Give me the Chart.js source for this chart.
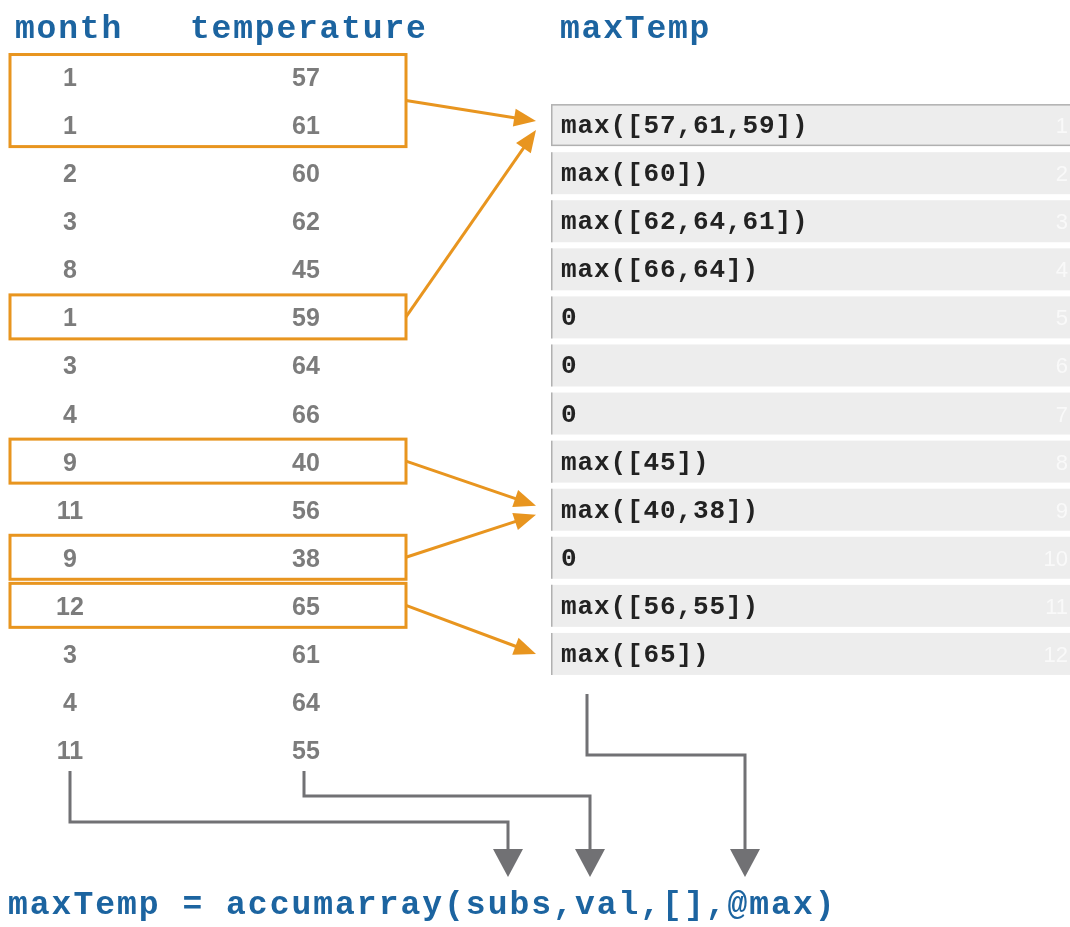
<!DOCTYPE html>
<html><head><meta charset="utf-8">
<script src="https://cdn.jsdelivr.net/npm/chart.js@4/dist/chart.umd.min.js"></script>
<style>html,body{margin:0;background:#fff;overflow:hidden}</style>
</head><body>
<canvas id="c" width="1070" height="927"></canvas>
<script>
// source table (one row per reading)
const months = [1,1,2,3,8,1,3,4,9,11,9,12,3,4,11];
const temps  = [57,61,60,62,45,59,64,66,40,56,38,65,61,64,55];
const outIdx = [1,2,3,4,5,6,7,8,9,10,11,12];
const headers = ['month','temperature','maxTemp'];
const formula = 'maxTemp = accumarray(subs,val,[],@max)';
const boxed = [[0,1],[5],[8],[10],[11]];   // highlighted rows

// maxTemp cell text built from the table
const cellText = outIdx.map(k=>{ const v=temps.filter((t,i)=>months[i]===k); return v.length ? 'max(['+v.join(',')+'])' : '0'; });

const BLUE='#1c64a0', ORANGE='#e8951f', GREY='#717174', MONO='"Liberation Mono", "Courier New", monospace';
const COL_M=70, COL_T=306, CELL_L=551, CELL_R=1072;

function arrowHead(ctx,x0,y0,x1,y1,len,hw,col){
  const a=Math.atan2(y1-y0,x1-x0);
  ctx.fillStyle=col; ctx.beginPath();
  ctx.moveTo(x1,y1);
  ctx.lineTo(x1-len*Math.cos(a)+hw*Math.sin(a), y1-len*Math.sin(a)-hw*Math.cos(a));
  ctx.lineTo(x1-len*Math.cos(a)-hw*Math.sin(a), y1-len*Math.sin(a)+hw*Math.cos(a));
  ctx.closePath(); ctx.fill();
}

const ink = {
  id:'ink',
  afterDraw(chart){
    const {ctx, scales:{x,y}} = chart;
    const X=v=>x.getPixelForValue(v), Y=v=>y.getPixelForValue(v);
    const spacing=s=>{ if('letterSpacing' in ctx) ctx.letterSpacing=s; };
    ctx.save();
    // headers
    ctx.font='bold 33px '+MONO; ctx.fillStyle=BLUE; ctx.textAlign='left'; ctx.textBaseline='alphabetic';
    spacing('1.8px');
    [[headers[0],15],[headers[1],190],[headers[2],560]].forEach(([t,px])=>ctx.fillText(t,X(px),Y(-1)+9));
    // formula
    spacing('2px');
    ctx.fillText(formula,X(8),Y(17.3)+5);
    spacing('0px');

    // maxTemp cells
    outIdx.forEach((k,i)=>{
      const cy=Y(k), top=cy-21, h=42;
      ctx.fillStyle='#ededed'; ctx.fillRect(X(CELL_L),top,X(CELL_R)-X(CELL_L),h);
      ctx.strokeStyle='#b0b0b0'; ctx.lineWidth=1.5;
      if(i===0){ ctx.strokeRect(X(CELL_L)+0.75,top+0.75,X(CELL_R)-X(CELL_L),h-1.5); }
      else { ctx.beginPath(); ctx.moveTo(X(CELL_L)+0.75,top); ctx.lineTo(X(CELL_L)+0.75,top+h); ctx.stroke(); }
      ctx.fillStyle='#f9f9f9'; ctx.font='22px "Liberation Sans", Arial'; ctx.textAlign='right';
      ctx.fillText(String(k),X(1068),cy+8);
      ctx.fillStyle='#222'; ctx.font='bold 26px '+MONO; ctx.textAlign='left';
      spacing('0.9px');
      ctx.fillText(cellText[i],X(561),cy+8);
      spacing('0px');
    });

    // table values from the two point datasets
    ctx.font='bold 25px "Liberation Sans", Arial'; ctx.fillStyle='#7c7c7c'; ctx.textAlign='center';
    chart.getDatasetMeta(0).data.forEach((p,i)=>ctx.fillText(String(months[i]),p.x,p.y+9));
    chart.getDatasetMeta(1).data.forEach((p,i)=>ctx.fillText(String(temps[i]),p.x,p.y+9));

    // orange boxes and arrows
    const hits={};
    ctx.strokeStyle=ORANGE; ctx.lineWidth=3;
    const boxTop=g=>Y(g[0])-22.5, boxBot=g=>Y(g[g.length-1])+21.5;
    boxed.forEach(g=>ctx.strokeRect(X(10),boxTop(g),X(406)-X(10),boxBot(g)-boxTop(g)));
    boxed.forEach(g=>{
      const k=months[g[0]];
      const n=boxed.filter(h=>months[h[0]]===k).length;
      hits[k]=(hits[k]||0)+1;
      const off = n>1 ? (hits[k]===1?-4:5) : 0;
      const x0=X(406), y0=(boxTop(g)+boxBot(g))/2, x1=X(536), y1=Y(k)+off;
      const a=Math.atan2(y1-y0,x1-x0);
      ctx.strokeStyle=ORANGE; ctx.lineWidth=3;
      ctx.beginPath(); ctx.moveTo(x0,y0); ctx.lineTo(x1-14*Math.cos(a),y1-14*Math.sin(a)); ctx.stroke();
      arrowHead(ctx,x0,y0,x1,y1,22,9,ORANGE);
    });

    // grey connectors to the formula
    const bottomRow=months.length-1;
    const paths=[
      [[COL_M,Y(bottomRow)+21],[COL_M,822],[508,822],[508,852]],
      [[304,Y(bottomRow)+21],[304,796],[590,796],[590,852]],
      [[587,Y(outIdx[outIdx.length-1])+40],[587,755],[745,755],[745,852]]
    ];
    ctx.strokeStyle=GREY; ctx.lineWidth=3; ctx.lineJoin='miter';
    paths.forEach(p=>{
      ctx.beginPath(); p.forEach(([px,py],j)=>j?ctx.lineTo(X(px),py):ctx.moveTo(X(px),py)); ctx.stroke();
      const [lx,ly]=p[p.length-1];
      ctx.fillStyle=GREY; ctx.beginPath();
      ctx.moveTo(X(lx)-15,ly-3); ctx.lineTo(X(lx)+15,ly-3); ctx.lineTo(X(lx),ly+25); ctx.closePath(); ctx.fill();
    });
    ctx.restore();
  }
};

new Chart(document.getElementById('c'), {
  type:'scatter',
  data:{datasets:[
    {label:'month', data:months.map((m,i)=>({x:COL_M,y:i})), pointRadius:0},
    {label:'temperature', data:temps.map((t,i)=>({x:COL_T,y:i})), pointRadius:0}
  ]},
  options:{
    responsive:false, animation:false, events:[],
    layout:{padding:0},
    plugins:{legend:{display:false}, tooltip:{enabled:false}},
    scales:{
      x:{display:false, min:0, max:1070},
      y:{display:false, reverse:true, min:-1.602, max:17.68}
    }
  },
  plugins:[ink]
});
</script>
</body></html>
